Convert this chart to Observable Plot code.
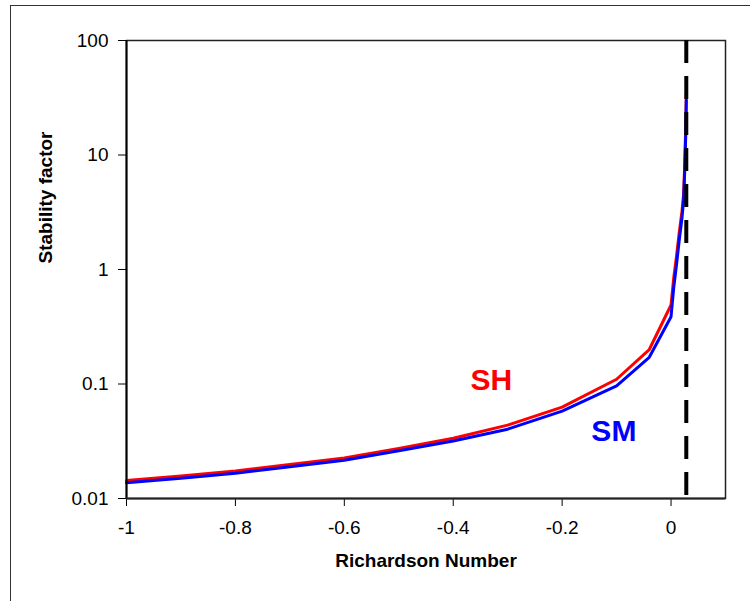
<!DOCTYPE html>
<html><head><meta charset="utf-8">
<script src="https://cdn.jsdelivr.net/npm/d3@7"></script>
<script src="https://cdn.jsdelivr.net/npm/@observablehq/plot@0.6"></script>
<style>
html,body{margin:0;padding:0;background:#fff;}
#wrap{position:relative;width:750px;height:601px;overflow:hidden;}
#border{position:absolute;left:10px;top:5px;width:800px;height:700px;border-left:1.5px solid #333;border-top:1.5px solid #333;}
#chart{position:absolute;left:0;top:0;}
</style></head><body>
<div id="wrap"><div id="border"></div><div id="chart"></div></div>
<script>
// Richardson number samples
const ri = [-1, -0.9, -0.8, -0.7, -0.6, -0.5, -0.4, -0.3, -0.2, -0.1, -0.04, 0, 0.005, 0.01, 0.015, 0.02, 0.023, 0.025, 0.027, 0.028];
// SH (heat) stability factor
const sh = [0.01436, 0.0157, 0.0174, 0.0198, 0.0226, 0.0274, 0.0336, 0.0437, 0.0628, 0.110, 0.200, 0.49, 0.85, 1.3, 2.1, 3.2, 4.5, 8, 18, 35];
// SM (momentum) stability factor
const sm = [0.0137, 0.0150, 0.0166, 0.0189, 0.0216, 0.0261, 0.0318, 0.0403, 0.0580, 0.0962, 0.171, 0.387, 0.7, 1.1, 1.8, 2.8, 4, 7, 15, 30];
// critical Richardson number (dashed line)
const critical = [0.028];
const xTicks = [-1, -0.8, -0.6, -0.4, -0.2, 0];
const yTicks = [0.01, 0.1, 1, 10, 100];
// series labels (data coordinates)
const labelText = ["SH", "SM"];
const labelRi = [-0.33, -0.105];
const labelValue = [0.108, 0.0387];
const labelColor = ["red", "blue"];

const shData = ri.map((x, i) => ({x, y: sh[i]}));
const smData = ri.map((x, i) => ({x, y: sm[i]}));
const labels = labelText.map((t, i) => ({t, x: labelRi[i], y: labelValue[i], c: labelColor[i]}));

const font = "'Liberation Sans', Arial, sans-serif";
const plot = Plot.plot({
  width: 750, height: 601,
  marginLeft: 126, marginRight: 25, marginTop: 40, marginBottom: 103,
  style: {fontFamily: font, fontSize: "19px", color: "#000", background: "transparent"},
  x: {domain: [-1, 0.1], ticks: xTicks, tickFormat: d => String(d), tickSize: 8, tickPadding: 14, label: null},
  y: {type: "log", domain: [0.01, 100], ticks: yTicks, tickFormat: d => String(d), tickSize: 8, tickPadding: 10, label: null},
  marks: [
    Plot.frame({stroke: "#222", strokeWidth: 1.5}),
    Plot.line(shData, {x: "x", y: "y", stroke: "red", strokeWidth: 3}),
    Plot.line(smData, {x: "x", y: "y", stroke: "blue", strokeWidth: 3}),
    Plot.ruleX(critical, {stroke: "black", strokeWidth: 4, strokeDasharray: "23,13"}),
    Plot.ruleX([xTicks[0]], {stroke: "black", strokeWidth: 2}),
    Plot.ruleY([yTicks[0]], {stroke: "#222", strokeWidth: 2}),
    Plot.text(labels, {x: "x", y: "y", text: "t", fill: "c", fontWeight: "bold", fontSize: 30}),
    Plot.text(["Richardson Number"], {frameAnchor: "bottom", dy: 68, fontWeight: "bold", fontSize: 19}),
    Plot.text(["Stability factor"], {frameAnchor: "left", dx: -81, dy: -6, rotate: -90, fontWeight: "bold", fontSize: 19})
  ]
});
document.getElementById("chart").appendChild(plot);
</script>
</body></html>
